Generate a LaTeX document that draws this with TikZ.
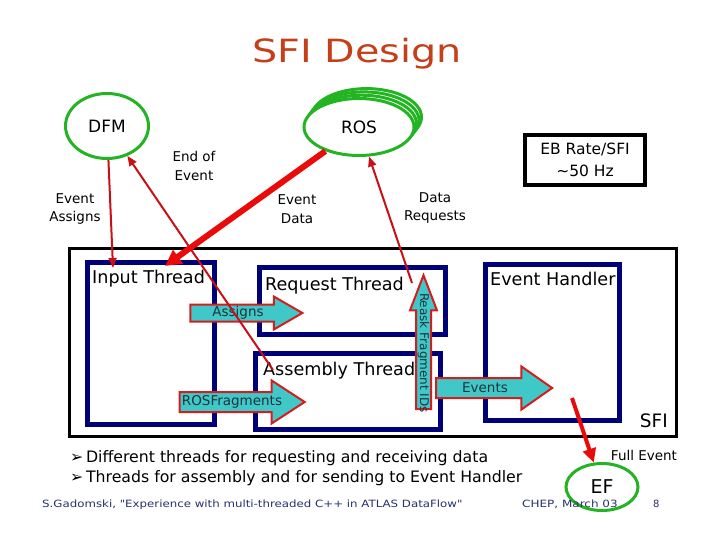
\documentclass[tikz,border=0pt]{standalone}
\usepackage{fontspec}
\setmainfont{DejaVu Sans}[Ligatures=TeXOff]
\usepackage{graphicx}
\usetikzlibrary{shapes,arrows.meta,positioning}

\definecolor{titlered}{RGB}{196,64,24}
\definecolor{ovalgreen}{RGB}{34,180,34}
\definecolor{threadnavy}{RGB}{0,0,120}
\definecolor{linered}{RGB}{200,16,24}
\definecolor{fatred}{RGB}{235,10,10}
\definecolor{blockcyan}{RGB}{64,200,200}
\definecolor{blockred}{RGB}{210,30,30}
\definecolor{blocktext}{RGB}{30,50,60}
\definecolor{footblue}{RGB}{40,50,110}

\begin{document}
\begin{tikzpicture}[x=1pt, y=-1pt,
    oval/.style={draw=ovalgreen, line width=3pt, ellipse, fill=white, inner sep=0pt},
    thread/.style={draw=threadnavy, line width=5pt, rectangle, inner sep=0pt},
    threadname/.style={font=\fontsize{17.6}{20}\selectfont, inner sep=0pt},
    lbl/.style={font=\fontsize{13.5}{18.5}\selectfont, align=center, inner sep=0pt},
    blockarrow/.style={single arrow, draw=blockred, line width=2pt, fill=blockcyan, inner xsep=0pt},
    blocktxt/.style={font=\fontsize{13.5}{16}\selectfont, text=blocktext, inner sep=0pt},
    thinline/.style={draw=linered, line width=2pt, -{Triangle[length=10pt, width=8pt]}},
    fatline/.style={draw=fatred, line width=6pt, -{Triangle[length=16pt, width=16pt]}},
    bullet/.style={font=\fontsize{15.75}{18}\selectfont, anchor=base west, inner sep=0pt},
    foot/.style={font=\fontsize{10}{12}\selectfont, text=footblue, anchor=base west, inner sep=0pt}
  ]
    \fill[white] (0,0) rectangle (720,540);
    \useasboundingbox (0,0) rectangle (720,540);

    \node[font=\fontsize{32}{36}\selectfont, text=titlered, anchor=base] (title) at (357,63) {\scalebox{1.24}[1]{SFI Design}};

    % outside the SFI
    \node[oval, minimum width=83, minimum height=65, font=\fontsize{17}{20}\selectfont] (dfm) at (107,126) {DFM};
    \foreach \k in {3,2,1}
        \node[oval, minimum width=110, minimum height=57] (ros\k) at (359+2.5*\k, 127-3.3*\k) {};
    \node[oval, minimum width=110, minimum height=57, font=\fontsize{17}{20}\selectfont] (ros) at (359,127) {ROS};
    \node[draw, line width=4pt, minimum width=120, minimum height=50, align=center, font=\fontsize{15.5}{22}\selectfont] (ebrate) at (585,160) {EB Rate/SFI\\\textasciitilde 50 Hz};

    % the SFI and its threads
    \node[draw, line width=3pt, minimum width=607, minimum height=188, inner sep=0pt] (sfi) at (373,342.5) {};
    \node[thread, minimum width=127, minimum height=162] (input) at (151,343.5) {};
    \node[thread, minimum width=186, minimum height=67] (request) at (352.5,301) {};
    \node[thread, minimum width=185, minimum height=76] (assembly) at (348,391.5) {};
    \node[thread, minimum width=134, minimum height=156] (handler) at (552.5,342.5) {};

    \node[threadname, below right=10pt and 7pt of input.north west] (inputname) {Input Thread};
    \node[threadname, below right=12pt and 8pt of request.north west] (requestname) {Request Thread};
    \node[threadname, below right=11pt and 10pt of assembly.north west] (assemblyname) {Assembly Thread};
    \node[threadname, below right=10pt and 7pt of handler.north west] (handlername) {Event Handler};
    \node[font=\fontsize{18.5}{20}\selectfont, inner sep=0pt, above left=10pt and 10pt of sfi.south east] (sfiname) {SFI};

    \node[blockarrow, minimum height=112, inner ysep=7.5pt, single arrow head extend=8pt, single arrow tip angle=60,
        label={[blocktxt, xshift=-1pt]center:Assigns}] (assigns) at (239,313) {};
    \node[blockarrow, minimum height=125, inner ysep=9pt, single arrow head extend=11.5pt, single arrow tip angle=66,
        label={[blocktxt, xshift=-2.5pt]center:ROSFragments}] (fragments) at (234.5,402) {};
    \node[blockarrow, minimum height=116, inner ysep=9pt, single arrow head extend=11.5pt, single arrow tip angle=70,
        label={[blocktxt, xshift=-2pt]center:Events}] (events) at (487,388) {};
    \node[blockarrow, rotate=90, minimum height=134, inner ysep=6.5pt, single arrow head extend=6pt, single arrow tip angle=42,
        label={[blocktxt, font=\fontsize{12}{14}\selectfont, yshift=-1pt, rotate=-90]center:Reask Fragment IDs}] (reask) at (423.5,352) {};

    % messages
    \node[lbl] (assignlbl) at (75,209) {Event\\Assigns};
    \node[lbl] (eoelbl) at (194,166) {End of\\Event};
    \node[lbl] (edatalbl) at (297,209) {Event\\Data};
    \node[lbl] (dreqlbl) at (435,208) {Data\\Requests};
    \node[lbl, anchor=base] (fulllbl) at (644,460) {Full Event};

    \node[oval, minimum width=72, minimum height=47, font=\fontsize{19}{22}\selectfont] (ef) at (602,487) {EF};

    \coordinate (inputin) at (113,268);
    \coordinate (eoefrom) at (273,370);
    \coordinate (edatato) at (165,266);
    \coordinate (dreqfrom) at (412,283);
    \coordinate (fullfrom) at (572,398);

    \draw[thinline] (dfm) -- (inputin);
    \draw[thinline] (eoefrom) -- (dfm);
    \draw[fatline] (ros) -- (edatato);
    \draw[thinline] (dreqfrom) -- (ros);
    \draw[fatline, line width=4pt, -{Triangle[length=14pt, width=13pt]}] (fullfrom) -- (ef);

    % bottom text
    \node[bullet] (firstpoint) at (70,462) {➢\,Different threads for requesting and receiving data};
    \node[bullet] (secondpoint) at (70,482) {➢\,Threads for assembly and for sending to Event Handler};
    \node[foot] (credit) at (42,507) {\scalebox{1.18}[1]{S.Gadomski, "Experience with multi-threaded C++ in ATLAS DataFlow"}};
    \node[foot] (venue) at (522,507) {\scalebox{1.2}[1]{CHEP, March 03}};
    \node[foot] (pagenum) at (653,507) {8};
\end{tikzpicture}
\end{document}
